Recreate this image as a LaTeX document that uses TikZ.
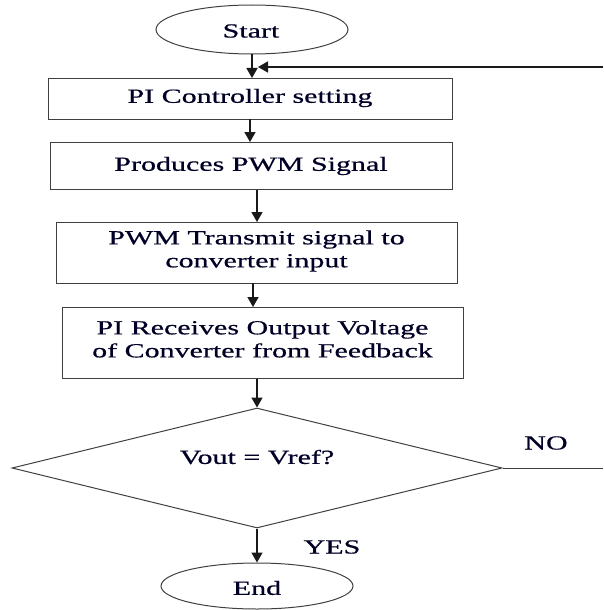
\documentclass[tikz,border=0pt]{standalone}
\usepackage{fontspec}
\setmainfont{Liberation Serif}[FakeStretch=1.5,FakeBold=0.6]
\usetikzlibrary{shapes.geometric,arrows.meta}
\begin{document}
\begin{tikzpicture}[x=1pt,y=-1pt,
  line width=1pt,
  every node/.style={font=\fontsize{20}{23}\selectfont, text=black!85!blue},
  stepbox/.style={draw=black!75, inner sep=0pt, anchor=north west},
  oval/.style={draw=black!75, ellipse, inner sep=0pt},
  lbl/.style={inner sep=0pt, align=center},
  arr/.style={draw=black!90, line width=1.4pt, -{Triangle[length=10pt,width=11pt]}},
  ln/.style={draw=black!75}]
\useasboundingbox (0,0) rectangle (603,610);
% shapes
\node[oval, minimum width=192pt, minimum height=49pt] (start) at (252,29.5) {};
\node[lbl] (starttxt) at (251,31) {Start};
\node[stepbox, minimum width=404pt, minimum height=41pt] (box1) at (48,78) {};
\node[lbl] (t1) at (250,98) {PI Controller setting};
\node[stepbox, minimum width=402pt, minimum height=47pt] (box2) at (50,142) {};
\node[lbl] (t2) at (251,166) {Produces PWM Signal};
\node[stepbox, minimum width=401pt, minimum height=61pt] (box3) at (56,222) {};
\node[lbl] (t3) at (256.5,251) {PWM Transmit signal to\\converter input};
\node[stepbox, minimum width=401pt, minimum height=71pt] (box4) at (62,307) {};
\node[lbl] (t4) at (262.5,339) {PI Receives Output Voltage\\of Converter from Feedback};
\node[diamond, draw=black!75, inner sep=0pt, minimum width=490pt, minimum height=120pt] (dia) at (257,468) {};
\node[lbl] (dtxt) at (257,457) {Vout = Vref?};
\node[oval, minimum width=192pt, minimum height=46pt] (end) at (257,586) {};
\node[lbl] (endtxt) at (257,588) {End};
\node[lbl] (no) at (546,443) {NO};
\node[lbl] (yes) at (332,547) {YES};
\coordinate (noR) at (603,468);
\coordinate (fbR) at (603,67);
\coordinate (fbL) at (258,67);
% connectors
\draw[arr] (start.south) -- (start.south |- box1.north);
\draw[arr] (250,119) -- (250,142);
\draw[arr] (box3.north |- box2.south) -- (box3.north);
\draw[arr] (253,283) -- (253,307);
\draw[arr] (dia.north |- box4.south) -- (dia.north);
\draw[arr] (dia.south) -- (end.north);
\draw[ln] (dia.east) -- (noR);
\draw[arr] (fbR) -- (fbL);
\end{tikzpicture}
\end{document}
